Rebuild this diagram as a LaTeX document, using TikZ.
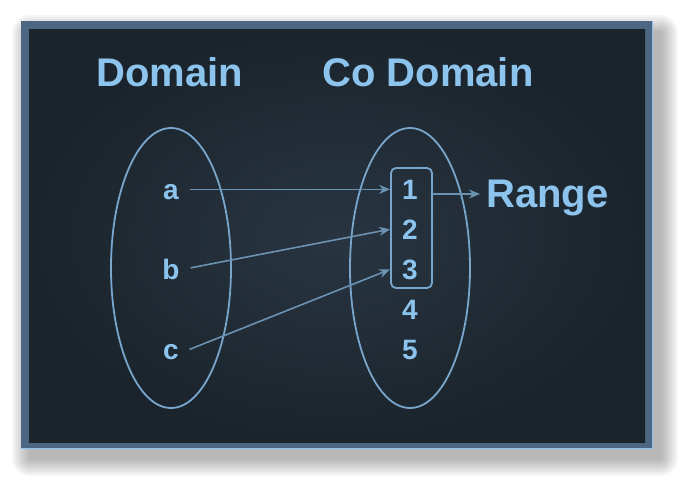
\documentclass[tikz,border=0pt]{standalone}
\usepackage{fontspec}
\setmainfont{Liberation Sans}
\usetikzlibrary{shapes.geometric,arrows.meta}
\definecolor{txt}{HTML}{8CC4EE}
\definecolor{lin}{HTML}{78A6CC}
\definecolor{arr}{HTML}{6C92B2}
\definecolor{rim}{HTML}{4B6781}
\definecolor{bgin}{HTML}{283541}
\definecolor{bgout}{HTML}{1B242C}

\begin{document}
\begin{tikzpicture}[x=1pt,y=-1pt,
	big/.style={text=txt,font=\bfseries\fontsize{40}{40}\selectfont,anchor=base,inner sep=0pt},
	elem/.style={text=txt,font=\bfseries\fontsize{28}{28}\selectfont,anchor=base,inner sep=5pt},
	set/.style={draw=lin,line width=1.8pt,ellipse,minimum width=120pt,minimum height=280pt,inner sep=0pt},
	map/.style={draw=arr,line width=1.6pt,-{Stealth[length=11pt,width=9pt]}}]
	\useasboundingbox (0,0) rectangle (694,491);
	\foreach \s in {2,4,...,18}
		\fill[black,opacity=.035,rounded corners=\s] ({30-\s},{33-\s}) rectangle ({660+\s},{458+\s});
	\fill[rim] (21,21) rectangle (652,448);
	\draw[txt,line width=1pt] (652,21) -- (652,448) -- (21,448);
	\shade[inner color=bgin,outer color=bgout] (29,29) rectangle (645,442);
	\node[big] (dom) at (170,86) {Domain};
	\node[big] (cod) at (428,86) {Co Domain};
	\node[set] (left) at (171,268) {};
	\node[set] (right) at (410,268) {};
	\node[elem] (a) at (171,199) {a};
	\node[elem] (b) at (171,279) {b};
	\node[elem] (c) at (171,359) {c};
	\node[elem] (n1) at (410,199) {1};
	\node[elem] (n2) at (410,239) {2};
	\node[elem] (n3) at (410,279) {3};
	\node[elem] (n4) at (410,319) {4};
	\node[elem] (n5) at (410,359) {5};
	\node[draw=lin,line width=1.8pt,rounded corners=5pt,minimum width=41pt,minimum height=120pt] (box) at (411.5,228) {};
	\node[big,anchor=west,text depth=0pt] (rng) at (486,194) {Range};
	\draw[map,shorten <=6pt] (a.east |- n1) -- (box.west |- n1);
	\draw[map,shorten <=6pt] (b.east) -- (box.west |- n2);
	\draw[map,shorten <=6pt] (c.east) -- (box.west |- n3);
	\draw[map,shorten >=6pt] (box.east |- rng.west) -- (rng.west);
\end{tikzpicture}
\end{document}
